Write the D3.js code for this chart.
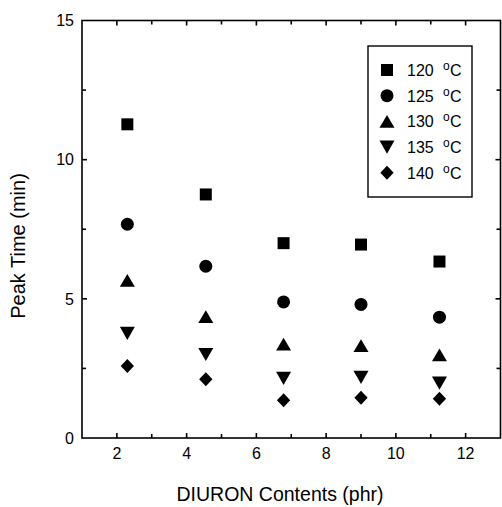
<!DOCTYPE html>
<html>
<head>
<meta charset="utf-8">
<script src="https://cdn.jsdelivr.net/npm/d3@7"></script>
<style>
  html, body { margin: 0; padding: 0; background: #fff; }
  svg { display: block; }
  text { font-family: "Liberation Sans", Arial, sans-serif; fill: #000; }
</style>
</head>
<body>
<script>
// DIURON content (phr) for each measured sample
const contents = [2.3, 4.55, 6.78, 9.0, 11.25];

// Peak time (min) at each cure temperature
const temperatures = ["120", "125", "130", "135", "140"];
const peak120 = [11.27, 8.75, 7.0, 6.95, 6.34];
const peak125 = [7.68, 6.17, 4.89, 4.8, 4.34];
const peak130 = [5.66, 4.36, 3.37, 3.32, 2.99];
const peak135 = [3.76, 3.0, 2.14, 2.18, 1.97];
const peak140 = [2.59, 2.11, 1.36, 1.45, 1.41];

// Tick values
const xMajorTicks = [2, 4, 6, 8, 10, 12];
const xMinorTicks = [3, 5, 7, 9, 11];
const yMajorTicks = [0, 5, 10, 15];
const yMinorTicks = [2.5, 7.5, 12.5];

const W = 502, H = 507;
const svg = d3.select("body").append("svg").attr("width", W).attr("height", H);

const x = d3.scaleLinear().domain([1, 13]).range([82, 500.5]);
const y = d3.scaleLinear().domain([0, 15]).range([438, 20.5]);

// Marker shapes, centred on their bounding box
const sq = { draw(c, s) { const h = Math.sqrt(s) / 2; c.rect(-h, -h, 2 * h, 2 * h); } };
const circ = { draw(c, s) { const r = Math.sqrt(s) / 2; c.moveTo(r, 0); c.arc(0, 0, r, 0, 2 * Math.PI); } };
const triUp = { draw(c, s) { const w = Math.sqrt(s), h = w * 0.85; c.moveTo(0, -h / 2); c.lineTo(w / 2, h / 2); c.lineTo(-w / 2, h / 2); c.closePath(); } };
const triDown = { draw(c, s) { const w = Math.sqrt(s), h = w * 0.88; c.moveTo(0, h / 2); c.lineTo(w / 2, -h / 2); c.lineTo(-w / 2, -h / 2); c.closePath(); } };
const diam = { draw(c, s) { const w = Math.sqrt(s) / 2; c.moveTo(0, -w); c.lineTo(w * 0.95, 0); c.lineTo(0, w); c.lineTo(-w * 0.95, 0); c.closePath(); } };

const series = [
  { temp: temperatures[0], values: peak120, type: sq, size: 12 * 12 },
  { temp: temperatures[1], values: peak125, type: circ, size: 13 * 13 },
  { temp: temperatures[2], values: peak130, type: triUp, size: 15 * 15 },
  { temp: temperatures[3], values: peak135, type: triDown, size: 15 * 15 },
  { temp: temperatures[4], values: peak140, type: diam, size: 14 * 14 }
];

// Frame
const frame = svg.append("g").attr("fill", "none").attr("stroke", "#000").attr("stroke-width", 1.6);
frame.append("rect")
  .attr("x", x(1)).attr("y", y(15))
  .attr("width", x(13) - x(1)).attr("height", y(0) - y(15));

// Inward ticks on all four sides
function ticksX(vals, len) {
  vals.forEach(v => {
    frame.append("line").attr("x1", x(v)).attr("x2", x(v)).attr("y1", y(0)).attr("y2", y(0) - len);
    frame.append("line").attr("x1", x(v)).attr("x2", x(v)).attr("y1", y(15)).attr("y2", y(15) + len);
  });
}
function ticksY(vals, len) {
  vals.forEach(v => {
    frame.append("line").attr("y1", y(v)).attr("y2", y(v)).attr("x1", x(1)).attr("x2", x(1) + len);
    frame.append("line").attr("y1", y(v)).attr("y2", y(v)).attr("x1", x(13)).attr("x2", x(13) - len);
  });
}
ticksX(xMajorTicks, 5);
ticksX(xMinorTicks, 4);
ticksY(yMajorTicks.filter(v => v > 0 && v < 15), 5);
ticksY(yMinorTicks, 4);

// Tick labels
svg.append("g").selectAll("text").data(xMajorTicks).join("text")
  .attr("x", d => x(d)).attr("y", 459)
  .attr("text-anchor", "middle").attr("font-size", 16)
  .text(d => d);
svg.append("g").selectAll("text").data(yMajorTicks).join("text")
  .attr("x", 74).attr("y", d => y(d)).attr("dy", "0.36em")
  .attr("text-anchor", "end").attr("font-size", 16)
  .text(d => d);

// Axis titles
svg.append("text")
  .attr("x", 280).attr("y", 501)
  .attr("text-anchor", "middle").attr("font-size", 19.5)
  .text("DIURON Contents (phr)");
svg.append("text")
  .attr("transform", "translate(25,246) rotate(-90)")
  .attr("text-anchor", "middle").attr("font-size", 20)
  .text("Peak Time (min)");

// Data markers
const sym = d3.symbol();
series.forEach(s => {
  svg.append("g").selectAll("path").data(s.values).join("path")
    .attr("transform", (d, i) => `translate(${x(contents[i])},${y(d)})`)
    .attr("d", sym.type(s.type).size(s.size)())
    .attr("fill", "#000");
});

// Legend
const lg = svg.append("g").attr("transform", "translate(368,46)");
lg.append("rect").attr("width", 104).attr("height", 151)
  .attr("fill", "#fff").attr("stroke", "#000").attr("stroke-width", 1.4);
series.forEach((s, i) => {
  const row = lg.append("g").attr("transform", `translate(0,${24 + i * 25.7})`);
  row.append("path")
    .attr("transform", "translate(19,0)")
    .attr("d", d3.symbol().type(s.type).size(s.size)())
    .attr("fill", "#000");
  row.append("text").attr("x", 39).attr("y", 6).attr("font-size", 16).text(s.temp);
  row.append("text").attr("x", 75).attr("y", 0).attr("font-size", 12).text("o");
  row.append("text").attr("x", 82).attr("y", 6).attr("font-size", 16).text("C");
});
</script>
</body>
</html>
